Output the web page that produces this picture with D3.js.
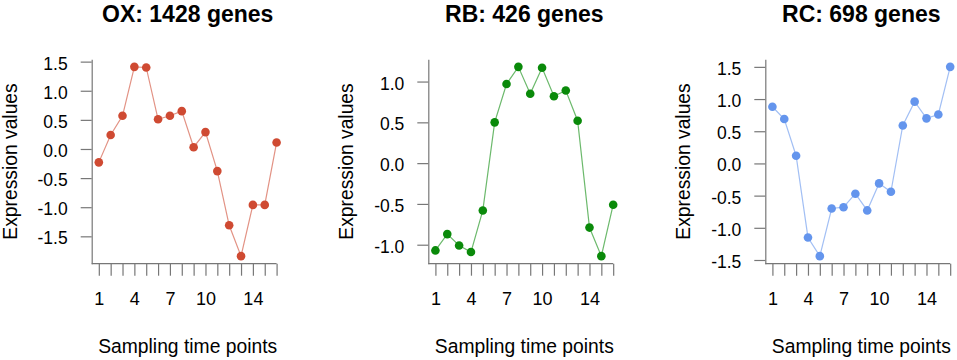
<!DOCTYPE html>
<html>
<head>
<meta charset="utf-8">
<script src="https://cdn.jsdelivr.net/npm/d3@7"></script>
<style>
  body { margin: 0; background: #fff; }
  text { font-family: "Liberation Sans", Arial, sans-serif; }
</style>
</head>
<body>
<div id="chart"></div>
<script>
// sampling time points shared by all three panels
const timePoints = [1, 2, 3, 4, 5, 6, 7, 8, 9, 10, 11, 12, 13, 14, 15, 16];
const xTickLabels = [1, 4, 7, 10, 14];

const panelTitles = ["OX: 1428 genes", "RB: 426 genes", "RC: 698 genes"];
const panelColors = ["#cf4a32", "#0a8a0a", "#6495ed"];

const oxValues = [-0.23, 0.24, 0.57, 1.41, 1.40, 0.51, 0.57, 0.65, 0.03, 0.29, -0.38, -1.31, -1.84, -0.96, -0.96, 0.11];
const rbValues = [-1.07, -0.87, -1.01, -1.09, -0.58, 0.50, 0.97, 1.18, 0.85, 1.17, 0.82, 0.89, 0.52, -0.79, -1.14, -0.51];
const rcValues = [0.88, 0.69, 0.12, -1.15, -1.44, -0.70, -0.68, -0.47, -0.73, -0.31, -0.44, 0.59, 0.96, 0.70, 0.76, 1.50];

const oxTicks = [-1.5, -1.0, -0.5, 0.0, 0.5, 1.0, 1.5];
const rbTicks = [-1.0, -0.5, 0.0, 0.5, 1.0];
const rcTicks = [-1.5, -1.0, -0.5, 0.0, 0.5, 1.0, 1.5];

const panels = [
  { title: panelTitles[0], color: panelColors[0], values: oxValues, ticks: oxTicks, left: 91.7 },
  { title: panelTitles[1], color: panelColors[1], values: rbValues, ticks: rbTicks, left: 428.3 },
  { title: panelTitles[2], color: panelColors[2], values: rcValues, ticks: rcTicks, left: 765.3 }
];

const W = 957, H = 360;
const plotTop = 59.3, plotBottom = 263.7, plotWidth = 192;
const axisColor = "#777";

const svg = d3.select("#chart").append("svg")
  .attr("width", W)
  .attr("height", H);

panels.forEach(p => {
  const g = svg.append("g").attr("transform", `translate(${p.left},0)`);

  // R style: pad ranges by 4%
  const xPad = (d3.max(timePoints) - d3.min(timePoints)) * 0.04;
  const x = d3.scaleLinear()
    .domain([d3.min(timePoints) - xPad, d3.max(timePoints) + xPad])
    .range([0, plotWidth]);

  const [lo, hi] = d3.extent(p.values);
  const yPad = (hi - lo) * 0.04;
  const y = d3.scaleLinear()
    .domain([lo - yPad, hi + yPad])
    .range([plotBottom, plotTop]);

  // y axis
  const yAxis = g.append("g")
    .call(d3.axisLeft(y)
      .tickValues(p.ticks)
      .tickSize(11)
      .tickSizeOuter(0)
      .tickPadding(13)
      .tickFormat(d => d.toFixed(1)));
  yAxis.select(".domain").attr("stroke", axisColor).attr("stroke-width", 1.2);
  yAxis.selectAll(".tick line").attr("stroke", axisColor).attr("stroke-width", 1.2);
  yAxis.selectAll(".tick text")
    .attr("fill", "#000")
    .attr("dy", "0.43em")
    .style("font-size", "17.5px");

  // x axis
  const xAxis = g.append("g")
    .attr("transform", `translate(0,${plotBottom})`)
    .call(d3.axisBottom(x)
      .tickValues(timePoints)
      .tickSize(12)
      .tickSizeOuter(0)
      .tickPadding(17)
      .tickFormat(d => xTickLabels.includes(d) ? d : ""));
  xAxis.select(".domain").remove();
  xAxis.selectAll(".tick line").attr("stroke", axisColor).attr("stroke-width", 1.2);
  xAxis.selectAll(".tick text")
    .attr("fill", "#000")
    .style("font-size", "18px");

  g.append("line")
    .attr("x1", 0)
    .attr("x2", x(d3.max(timePoints)))
    .attr("y1", plotBottom)
    .attr("y2", plotBottom)
    .attr("stroke", axisColor)
    .attr("stroke-width", 1.2);

  const pts = timePoints.map((t, i) => ({ t, v: p.values[i] }));

  g.append("path")
    .datum(pts)
    .attr("fill", "none")
    .attr("stroke", p.color)
    .attr("stroke-opacity", 0.6)
    .attr("stroke-width", 1.2)
    .attr("d", d3.line().x(d => x(d.t)).y(d => y(d.v)));

  g.selectAll(".dot")
    .data(pts)
    .enter().append("circle")
    .attr("class", "dot")
    .attr("cx", d => x(d.t))
    .attr("cy", d => y(d.v))
    .attr("r", 4.3)
    .attr("fill", p.color);

  // titles
  g.append("text")
    .attr("x", plotWidth / 2)
    .attr("y", 21.5)
    .attr("text-anchor", "middle")
    .style("font-size", "23px")
    .style("font-weight", "bold")
    .text(p.title);

  g.append("text")
    .attr("x", plotWidth / 2)
    .attr("y", 353)
    .attr("text-anchor", "middle")
    .style("font-size", "19.3px")
    .text("Sampling time points");

  g.append("text")
    .attr("transform", `translate(-75,${(plotTop + plotBottom) / 2}) rotate(-90)`)
    .attr("text-anchor", "middle")
    .style("font-size", "19.3px")
    .text("Expression values");
});
</script>
</body>
</html>
